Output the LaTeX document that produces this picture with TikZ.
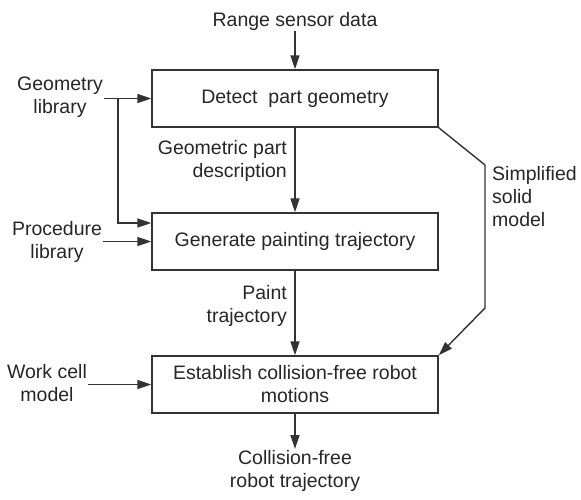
\documentclass[tikz,border=0pt]{standalone}
\usepackage{fontspec}
\setmainfont{Liberation Sans}
\usetikzlibrary{arrows.meta}
\begin{document}
\begin{tikzpicture}[x=1pt,y=-1pt,
  every node/.style={font=\fontsize{19.5}{23}\selectfont, text=black!85},
  procbox/.style={draw=black!80, line width=1.4pt, minimum width=286pt, minimum height=57pt, inner sep=2pt, align=center},
  lbl/.style={inner sep=1pt},
  conn/.style={draw=black!80, line width=1.4pt},
  arr/.style={conn, -{Triangle[length=14pt,width=9pt]}}]
\useasboundingbox (0,0) rectangle (581,499);
% boxes
\node[procbox] (b1) at (295,98.5) {Detect~ part geometry};
\node[procbox] (b2) at (295,241.5) {Generate painting trajectory};
\node[procbox] (b3) at (295,384.5) {Establish collision-free robot\\motions};
% labels
\node[lbl] (range) at (295,21) {Range sensor data};
\node[lbl, align=center] (geo) at (60,97.5) {Geometry\\library};
\node[lbl, align=center] (proc) at (57,241.5) {Procedure\\library};
\node[lbl, align=center] (work) at (47,383.5) {Work cell\\model};
\node[lbl, align=right, anchor=east] (gpd) at (288,161) {Geometric part\\description};
\node[lbl, align=right, anchor=east] (paint) at (288,306) {Paint\\trajectory};
\node[lbl, align=left, anchor=west] (simp) at (491,197) {Simplified\\solid\\model};
\node[lbl, align=center, anchor=north] (out) at (295,449) {Collision-free\\robot trajectory};
% connectors
\draw[arr] (range.south) -- (b1.north);
\draw[arr] (geo.east |- b1.west) -- (b1.west);
\coordinate (j) at (118,98.5);
\draw[arr] (j) |- ([yshift=18.5pt]b2.west);
\draw[arr] (proc.east |- b2.west) -- (b2.west);
\draw[arr] (work.east |- b3.west) -- (b3.west);
\draw[arr] (b1.south) -- (b2.north);
\draw[arr] (b2.south) -- (b3.north);
\draw[arr] (b3.south) -- (out.north);
\coordinate (s1) at (485,165);
\coordinate (s2) at (485,308);
\draw[arr] (b1.south east) -- (s1) -- (s2) -- (b3.north east);
\end{tikzpicture}
\end{document}
